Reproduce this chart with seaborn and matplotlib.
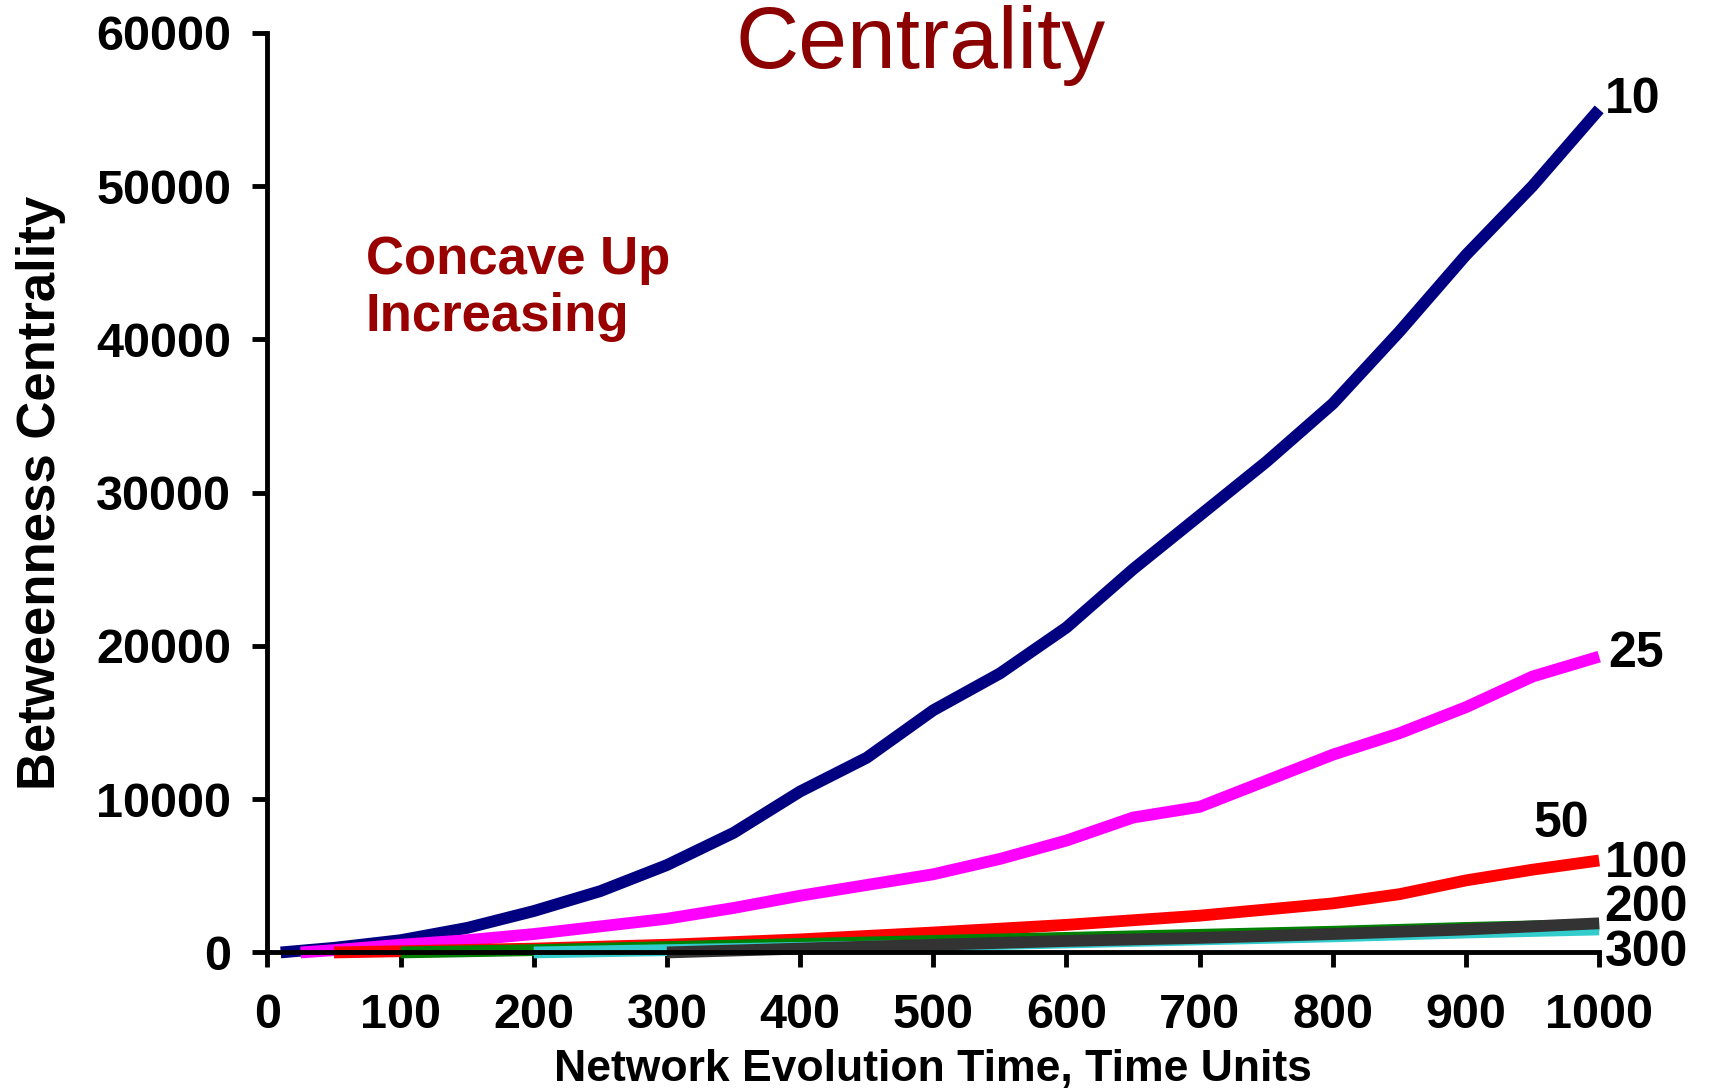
import pandas as pd
import seaborn as sns
import matplotlib.pyplot as plt

# series (start time -> betweenness centrality)
x10 = [10, 50, 100, 150, 200, 250, 300, 350, 400, 450, 500, 550, 600, 650, 700, 750, 800, 850, 900, 950, 1000]
y10 = [0, 300, 800, 1600, 2700, 4000, 5700, 7800, 10500, 12700, 15800, 18200, 21200, 25000, 28500, 32000, 35800, 40500, 45500, 50000, 55000]

x25 = [25, 50, 100, 150, 200, 250, 300, 350, 400, 450, 500, 550, 600, 650, 700, 750, 800, 850, 900, 950, 1000]
y25 = [0, 150, 500, 800, 1200, 1700, 2200, 2900, 3700, 4400, 5100, 6100, 7300, 8800, 9500, 11200, 12900, 14300, 16000, 18000, 19300]

x50 = [50, 100, 200, 300, 400, 500, 600, 700, 800, 850, 900, 950, 1000]
y50 = [0, 80, 250, 500, 850, 1300, 1800, 2400, 3200, 3800, 4700, 5400, 6000]

x100 = [100, 200, 300, 400, 500, 600, 700, 800, 900, 1000]
y100 = [0, 150, 350, 550, 750, 950, 1150, 1350, 1600, 1800]

x200 = [200, 300, 400, 500, 600, 700, 800, 900, 1000]
y200 = [0, 150, 300, 450, 650, 850, 1050, 1300, 1500]

x300 = [300, 400, 500, 600, 700, 800, 900, 1000]
y300 = [0, 250, 500, 750, 950, 1200, 1500, 1900]

series = ["10", "25", "50", "100", "200", "300"]
colors = ["#000080", "#FF00FF", "#FF0000", "#008000", "#33CCCC", "#333333"]

frames = []
for name, xs, ys in zip(series, [x10, x25, x50, x100, x200, x300],
                        [y10, y25, y50, y100, y200, y300]):
    frames.append(pd.DataFrame({"t": xs, "bc": ys, "start": name}))
df = pd.concat(frames, ignore_index=True)

sns.set_style("white")
plt.rcParams['font.family'] = ['Liberation Sans', 'DejaVu Sans']
plt.rcParams['text.color'] = 'black'
plt.rcParams['axes.labelcolor'] = 'black'
plt.rcParams['xtick.color'] = 'black'
plt.rcParams['ytick.color'] = 'black'

fig = plt.figure(figsize=(17.14, 10.91), dpi=100)
ax = fig.add_axes([0.156, 0.127, 0.777, 0.843])

sns.lineplot(data=df, x="t", y="bc", hue="start", hue_order=series,
             palette=colors, linewidth=8.5, legend=False, ax=ax,
             solid_capstyle="butt", clip_on=False)

ax.set_xlim(0, 1000)
ax.set_ylim(0, 60000)
ax.set_xticks(range(0, 1001, 100))
ax.set_yticks(range(0, 60001, 10000))
for s in ["top", "right"]:
    ax.spines[s].set_visible(False)
for s in ["left", "bottom"]:
    ax.spines[s].set_linewidth(3.5)
    ax.spines[s].set_color("black")
ax.tick_params(direction="out", length=11, width=3.5, color="black",
               labelsize=35, left=True, bottom=True)
ax.tick_params(axis="y", pad=15)
ax.tick_params(axis="x", pad=18)
for lab in ax.get_xticklabels() + ax.get_yticklabels():
    lab.set_fontweight("bold")

ax.set_xlabel("Network Evolution Time, Time Units", fontsize=32,
              fontweight="bold", labelpad=8)
ax.set_ylabel("Betweenness Centrality", fontsize=38, fontweight="bold",
              labelpad=22)

fig.text(0.537, 0.938, "Centrality", fontsize=63, color="#8B0000",
         ha="center", va="baseline")
ax.text(74, 40520, "Concave Up\nIncreasing", fontsize=38, fontweight="bold",
        color="#990000", ha="left", va="baseline", linespacing=1.2)

# end-of-series labels
lab_x = [1004, 1007, 951, 1004, 1004, 1004]
lab_y = [55600, 19450, 8400, 5750, 2900, -60]
for name, lx, ly in zip(series, lab_x, lab_y):
    ax.text(lx, ly, name, fontsize=36, fontweight="bold", ha="left",
            va="center", clip_on=False)

plt.savefig("out.png", dpi=100)
